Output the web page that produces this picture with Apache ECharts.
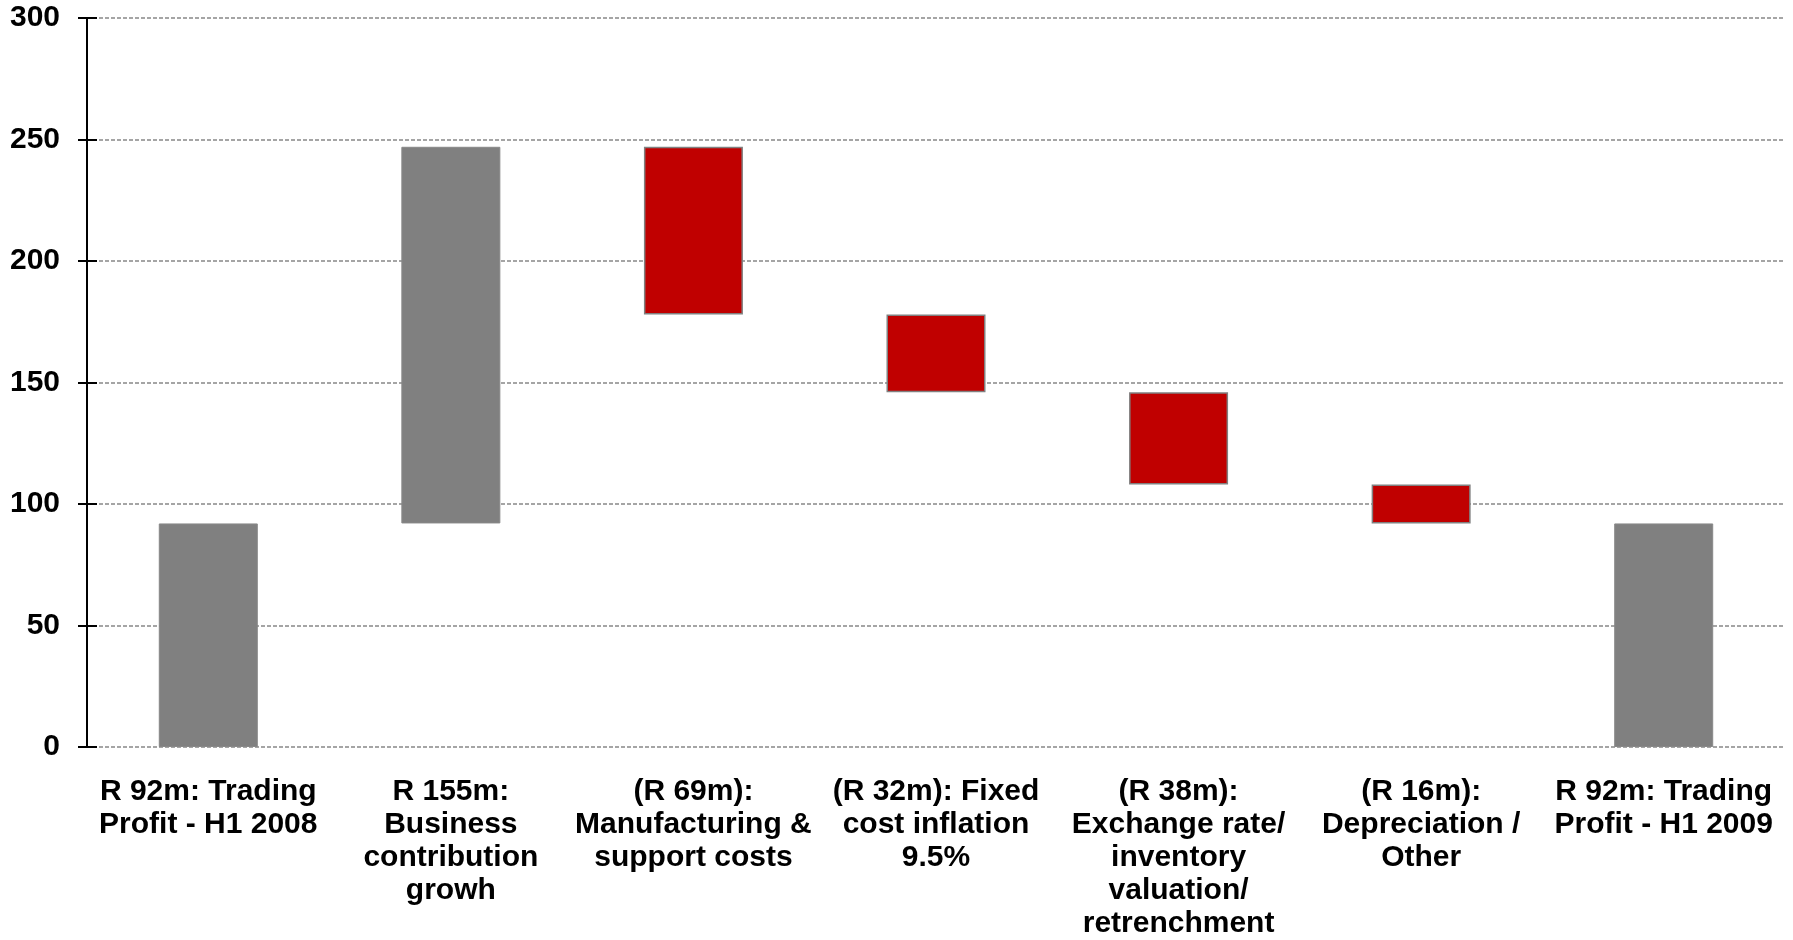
<!DOCTYPE html>
<html>
<head>
<meta charset="utf-8">
<title>Trading profit bridge H1 2008 to H1 2009</title>
<script src="https://cdn.jsdelivr.net/npm/echarts@6/dist/echarts.min.js"></script>
<style>
  html, body { margin: 0; padding: 0; background: #ffffff; }
  #chart { width: 1793px; height: 940px; }
</style>
</head>
<body>
<div id="chart"></div>
<script>
// Bridge categories (R million)
const categories = [
  'R 92m: Trading\nProfit - H1 2008',
  'R 155m:\nBusiness\ncontribution\ngrowh',
  '(R 69m):\nManufacturing &\nsupport costs',
  '(R 32m): Fixed\ncost inflation\n9.5%',
  '(R 38m):\nExchange rate/\ninventory\nvaluation/\nretrenchment',
  '(R 16m):\nDepreciation /\nOther',
  'R 92m: Trading\nProfit - H1 2009'
];
// Signed movement of each step; first and last are totals
const stepValues = [92, 155, -69, -32, -38, -16, 92];
const isTotal = [true, false, false, false, false, false, true];
const yTicks = { min: 0, max: 300, interval: 50 };

// Build floating-bar offsets and heights from the steps
const baseData = [];
const barData = [];
let running = 0;
stepValues.forEach((v, i) => {
  if (isTotal[i]) {
    baseData.push(0);
    barData.push({ value: v, itemStyle: { color: '#808080', borderColor: '#888888', borderWidth: 1 } });
    running = v;
  } else {
    const next = running + v;
    baseData.push(Math.min(running, next));
    const up = v > 0;
    barData.push({
      value: Math.abs(v),
      itemStyle: up
        ? { color: '#808080', borderColor: '#888888', borderWidth: 1 }
        : { color: '#C00000', borderColor: '#808080', borderWidth: 1.5 }
    });
    running = next;
  }
});

const chart = echarts.init(document.getElementById('chart'));
const font = 'Arial, "Liberation Sans", sans-serif';

chart.setOption({
  animation: false,
  backgroundColor: '#ffffff',
  grid: { left: 87, right: 8, top: 18, bottom: 193, containLabel: false },
  xAxis: {
    type: 'category',
    data: categories,
    axisLine: { show: false },
    axisTick: { show: false },
    axisLabel: {
      interval: 0,
      margin: 28,
      color: '#000000',
      fontFamily: font,
      fontWeight: 'bold',
      fontSize: 30,
      lineHeight: 33,
      align: 'center'
    }
  },
  yAxis: [
    {
      type: 'value',
      min: yTicks.min, max: yTicks.max, interval: yTicks.interval,
      axisLine: { show: true, lineStyle: { color: '#000000', width: 2 } },
      axisTick: { show: true, length: 9, lineStyle: { color: '#000000', width: 2 } },
      axisLabel: {
        margin: 27,
        color: '#000000',
        fontFamily: font,
        fontWeight: 'bold',
        fontSize: 30
      },
      splitLine: {
        show: true,
        lineStyle: { color: '#888888', width: 1.5, type: [4, 2] }
      }
    },
    {
      // inner half of the crossing tick marks
      type: 'value',
      position: 'left',
      min: yTicks.min, max: yTicks.max, interval: yTicks.interval,
      axisLine: { show: false },
      axisTick: { show: true, inside: true, length: 10, lineStyle: { color: '#000000', width: 2 } },
      axisLabel: { show: false },
      splitLine: { show: false }
    }
  ],
  series: [
    {
      type: 'bar',
      stack: 'bridge',
      data: baseData,
      barWidth: 99,
      itemStyle: { color: 'transparent', borderWidth: 0 },
      silent: true
    },
    {
      type: 'bar',
      stack: 'bridge',
      data: barData,
      barWidth: 99
    }
  ]
});
</script>
</body>
</html>
